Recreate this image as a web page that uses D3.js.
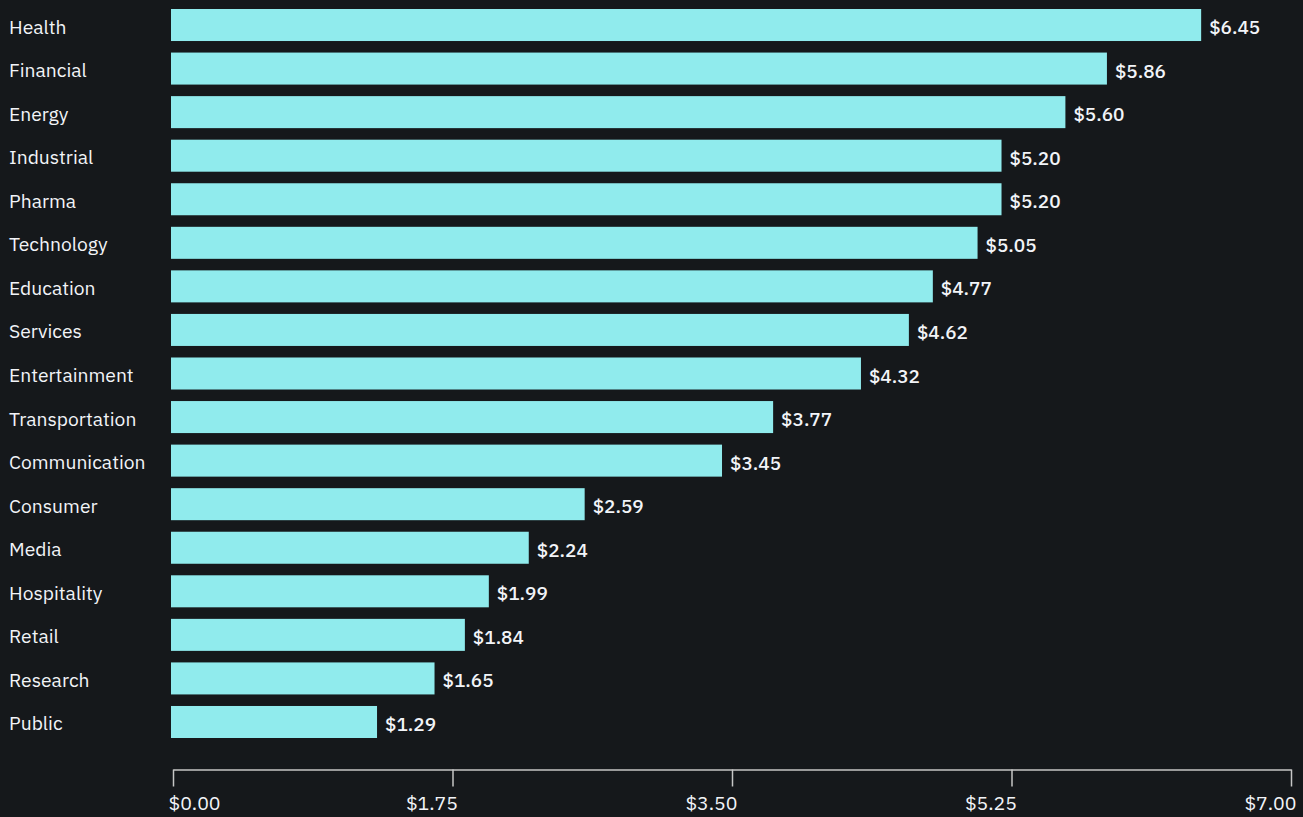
<!DOCTYPE html>
<html>
<head>
<meta charset="utf-8">
<script src="https://cdn.jsdelivr.net/npm/d3@7"></script>
<style>
  html, body { margin: 0; padding: 0; background: #15181b; }
  svg { display: block; }
  text { font-family: "IBM Plex Sans", "Noto Sans", sans-serif; fill: #f2f4f8; }
</style>
</head>
<body>
<svg id="chart" width="1303" height="817"></svg>
<script>
const sectors = ["Health", "Financial", "Energy", "Industrial", "Pharma", "Technology",
  "Education", "Services", "Entertainment", "Transportation", "Communication",
  "Consumer", "Media", "Hospitality", "Retail", "Research", "Public"];
const costs = [6.45, 5.86, 5.60, 5.20, 5.20, 5.05, 4.77, 4.62, 4.32, 3.77, 3.45,
  2.59, 2.24, 1.99, 1.84, 1.65, 1.29];
const tickValues = [0, 1.75, 3.5, 5.25, 7];

const data = sectors.map((s, i) => ({ name: s, value: costs[i] }));

// sizing
const svgWidth = 1303;
const svgHeight = 817;
const margin = {top: 9, left: 171, right: 14, bottom: 79};

const svg = d3.select("svg#chart");

const xScale = d3.scaleLinear()
  .domain([0, 7])
  .range([margin.left, svgWidth - margin.right]);

const yScale = d3.scaleBand()
  .domain(sectors)
  .range([margin.top, svgHeight - margin.bottom])
  .paddingInner(0.265)
  .paddingOuter(0);

const fmt = d => "$" + d3.format(".2f")(d);

// bars
svg.append("g")
  .selectAll("rect.bar")
  .data(data)
  .enter()
  .append("rect")
  .attr("class", "bar")
  .attr("x", xScale(0))
  .attr("y", d => yScale(d.name))
  .attr("width", d => xScale(d.value) - xScale(0))
  .attr("height", yScale.bandwidth())
  .style("fill", "#90ebed");

// category labels
svg.append("g")
  .selectAll("text.cat")
  .data(data)
  .enter()
  .append("text")
  .attr("class", "cat")
  .attr("x", 9)
  .attr("y", d => yScale(d.name) + yScale.bandwidth() / 2 + 1)
  .attr("dominant-baseline", "central")
  .style("font-size", "19.3px")
  .text(d => d.name);

// value labels
svg.append("g")
  .selectAll("text.val")
  .data(data)
  .enter()
  .append("text")
  .attr("class", "val")
  .attr("x", d => xScale(d.value) + 8)
  .attr("y", d => yScale(d.name) + yScale.bandwidth() / 2 + 2)
  .attr("dominant-baseline", "central")
  .style("font-size", "19px")
  .style("font-weight", 500)
  .text(d => fmt(d.value));

// x axis
const xAxis = d3.axisBottom()
  .scale(xScale)
  .tickValues(tickValues)
  .tickSize(17)
  .tickSizeOuter(0)
  .tickPadding(10)
  .tickFormat(fmt);

const axisG = svg.append("g")
  .attr("id", "xAxisG")
  .attr("transform", "translate(2," + 769.5 + ")")
  .call(xAxis);

axisG.select(".domain").attr("stroke", "#c6c6c6").attr("stroke-width", 1.5);
axisG.selectAll(".tick line").attr("stroke", "#c6c6c6").attr("stroke-width", 1.5);
axisG.selectAll(".tick text")
  .attr("fill", "#f2f4f8")
  .style("font-size", "19.5px")
  .style("font-family", "\"IBM Plex Sans\", \"Noto Sans\", sans-serif")
  .attr("text-anchor", (d, i) => i === 0 ? "start" : "end")
  .attr("x", (d, i) => i === 0 ? -5 : 5);
</script>
</body>
</html>
